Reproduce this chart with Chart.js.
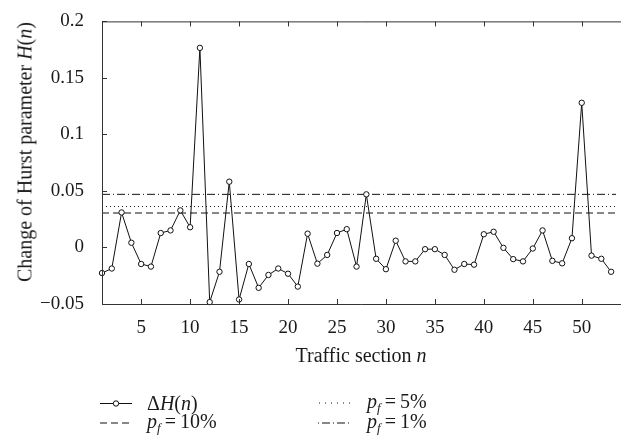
<!DOCTYPE html>
<html>
<head>
<meta charset="utf-8">
<script src="https://cdn.jsdelivr.net/npm/chart.js@4.4.1/dist/chart.umd.min.js"></script>
<style>
  body { margin: 0; background: #fff; }
  #wrap { position: relative; width: 621px; height: 444px; font-family: "Liberation Serif", serif; color: #1a1a1a; }
  #wrap canvas { position: absolute; left: 0; top: 0; }
  .ytitle { position: absolute; left: 25px; top: 152px; transform: translate(-50%, -50%) rotate(-90deg); white-space: nowrap; font-size: 20px; }
  .xtitle { position: absolute; left: 361px; top: 355px; transform: translate(-50%, -50%); white-space: nowrap; font-size: 20px; }
  .leg { position: absolute; font-size: 20px; white-space: nowrap; display: flex; align-items: center; transform: translateY(-50%); }
  .leg svg { margin-right: 15px; }
  i { font-style: italic; }
  sub { font-size: 13px; vertical-align: -4px; }
  .eq { margin: 0 4px; }
</style>
</head>
<body>
<div id="wrap">
  <canvas id="grafico" width="621" height="444"></canvas>
  <div class="ytitle">Change of Hurst parameter <i>H</i>(<i>n</i>)</div>
  <div class="xtitle">Traffic section <i>n</i></div>
  <div class="leg" style="left:100px;top:403px">
    <svg width="32" height="10"><line x1="0" y1="5" x2="32" y2="5" stroke="#111" stroke-width="1"/><circle cx="16" cy="5" r="2.7" fill="#fff" stroke="#111" stroke-width="1"/></svg>
    <span>&Delta;<i>H</i>(<i>n</i>)</span>
  </div>
  <div class="leg" style="left:100px;top:423px">
    <svg width="32" height="10"><line x1="0" y1="5" x2="30" y2="5" stroke="#111" stroke-width="1" stroke-dasharray="7,4"/></svg>
    <span><i>p<sub>f</sub></i><span class="eq">=</span>10%</span>
  </div>
  <div class="leg" style="left:318px;top:403px">
    <svg width="34" height="10"><line x1="1" y1="5" x2="34" y2="5" stroke="#111" stroke-width="1" stroke-dasharray="1,5"/></svg>
    <span><i>p<sub>f</sub></i><span class="eq">=</span>5%</span>
  </div>
  <div class="leg" style="left:318px;top:423px">
    <svg width="34" height="10"><line x1="0" y1="5" x2="34" y2="5" stroke="#111" stroke-width="1" stroke-dasharray="1,3,8,3"/></svg>
    <span><i>p<sub>f</sub></i><span class="eq">=</span>1%</span>
  </div>
</div>
<script>
// secciones de trafico y variacion de H(n)
const secciones = [];
for (let n = 1; n <= 53; n++) secciones.push(n);

const deltaH = [
  -0.0226, -0.0186, 0.0310, 0.0042, -0.0146, -0.0169, 0.0128, 0.0151, 0.0328, 0.0179,
  0.1766, -0.0483, -0.0215, 0.0582, -0.0460, -0.0146, -0.0357, -0.0243, -0.0186, -0.0232,
  -0.0346, 0.0122, -0.0143, -0.0066, 0.0128, 0.0162, -0.0169, 0.0470, -0.0100, -0.0192,
  0.0060, -0.0123, -0.0123, -0.0015, -0.0015, -0.0066, -0.0197, -0.0146, -0.0152, 0.0117,
  0.0139, -0.0003, -0.0103, -0.0123, -0.0009, 0.0151, -0.0118, -0.0140, 0.0082, 0.1280,
  -0.0072, -0.0100, -0.0215
];

// umbrales
const umbral10 = 0.0305;
const umbral5 = 0.0362;
const umbral1 = 0.0470;

const xRango = [1, 53.5];
const xTicks = [5, 10, 15, 20, 25, 30, 35, 40, 45, 50];
const yTicks = [-0.05, 0, 0.05, 0.1, 0.15, 0.2];

const puntos = secciones.map((n, i) => ({ x: n, y: deltaH[i] }));
const linea = v => xRango.map(x => ({ x: x, y: v }));

// marco y ticks hacia adentro
const marco = {
  id: 'marco',
  afterDraw(chart) {
    const { ctx, chartArea: a, scales } = chart;
    ctx.save();
    ctx.strokeStyle = '#333';
    ctx.lineWidth = 1;
    ctx.beginPath();
    ctx.moveTo(chart.width, a.top + 0.5);
    ctx.lineTo(a.left + 0.5, a.top + 0.5);
    ctx.lineTo(a.left + 0.5, a.bottom + 0.5);
    ctx.lineTo(chart.width, a.bottom + 0.5);
    xTicks.forEach(v => {
      const px = Math.round(scales.x.getPixelForValue(v)) + 0.5;
      ctx.moveTo(px, a.bottom); ctx.lineTo(px, a.bottom - 5);
      ctx.moveTo(px, a.top); ctx.lineTo(px, a.top + 5);
    });
    yTicks.forEach(v => {
      const py = Math.round(scales.y.getPixelForValue(v)) + 0.5;
      ctx.moveTo(a.left, py); ctx.lineTo(a.left + 5, py);
    });
    ctx.stroke();
    ctx.restore();
  }
};

const fuente = { family: '"Liberation Serif", serif', size: 19 };

new Chart(document.getElementById('grafico'), {
  type: 'line',
  data: {
    datasets: [
      {
        label: 'ΔH(n)',
        data: puntos,
        borderColor: '#111',
        borderWidth: 1,
        pointRadius: 2.7,
        pointBackgroundColor: '#fff',
        pointBorderColor: '#111',
        pointBorderWidth: 1,
        tension: 0,
        clip: false
      },
      { label: 'pf = 10%', data: linea(umbral10), borderColor: '#111', borderWidth: 1, borderDash: [7, 4], pointRadius: 0 },
      { label: 'pf = 5%', data: linea(umbral5), borderColor: '#111', borderWidth: 1, borderDash: [1, 3], pointRadius: 0 },
      { label: 'pf = 1%', data: linea(umbral1), borderColor: '#111', borderWidth: 1, borderDash: [8, 3, 1, 3], pointRadius: 0 }
    ]
  },
  options: {
    responsive: false,
    animation: false,
    layout: { padding: { top: 12, right: 0, bottom: 110, left: 0 } },
    plugins: { legend: { display: false }, tooltip: { enabled: false } },
    scales: {
      x: {
        type: 'linear',
        min: xRango[0],
        max: xRango[1],
        afterBuildTicks: s => { s.ticks = xTicks.map(v => ({ value: v })); },
        afterFit: s => { s.height = 30; },
        grid: { display: false },
        border: { display: false },
        ticks: { color: '#1a1a1a', font: fuente, padding: 5, maxRotation: 0 }
      },
      y: {
        min: -0.05,
        max: 0.2,
        afterBuildTicks: s => { s.ticks = yTicks.map(v => ({ value: v })); },
        afterFit: s => { s.width = 102; },
        grid: { display: false },
        border: { display: false },
        ticks: {
          color: '#1a1a1a',
          font: fuente,
          padding: 10,
          callback: v => String(Math.round(v * 100) / 100).replace('-', '\u2212')
        }
      }
    }
  },
  plugins: [marco]
});
</script>
</body>
</html>
